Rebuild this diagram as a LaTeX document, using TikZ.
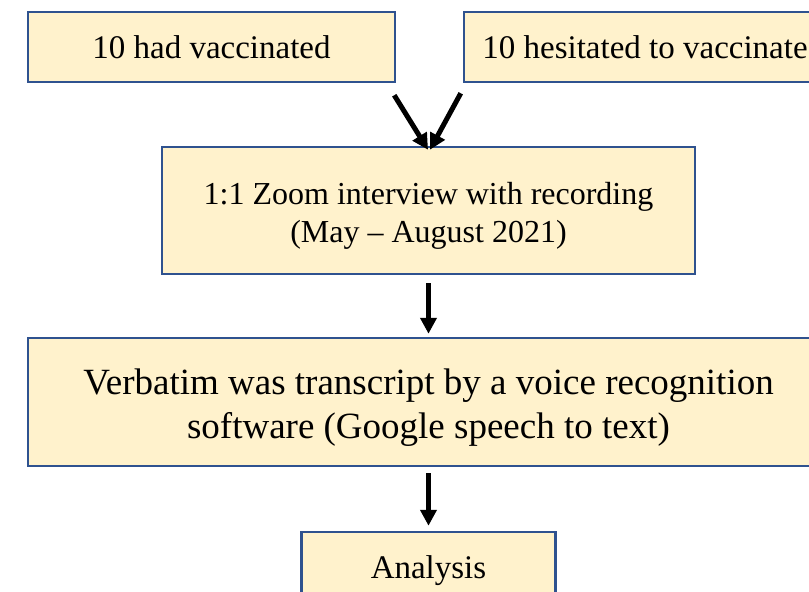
\documentclass[tikz,border=0pt]{standalone}
\usepackage{fontspec}
\setmainfont{Liberation Serif}
\usetikzlibrary{arrows.meta}
\definecolor{vacfill}{RGB}{255,242,204}
\definecolor{vacline}{RGB}{47,82,143}
\begin{document}
\begin{tikzpicture}[
  x=1pt, y=-1pt,
  vacbox/.style = {draw=vacline, fill=vacfill, line width=2.5pt,
    inner sep=0pt, align=center, font=\fontsize{33}{39}\selectfont},
  vacmid/.style = {vacbox, text height=70pt, text depth=7pt,
    font=\fontsize{32}{38}\selectfont},
  vacbig/.style = {vacbox, text height=80pt, text depth=8pt,
    font=\fontsize{37}{44}\selectfont},
  vacarrow/.style = {line width=5pt, -{Triangle[width=16pt,length=16pt]}}
]
  \useasboundingbox (0,0) rectangle (809,592);
  \clip (0,0) rectangle (809,592);
  % two groups
  \node[vacbox, minimum width=367pt, minimum height=70pt] (had)
    at (211.5,47) {10 had vaccinated};
  \node[vacbox, minimum width=362pt, minimum height=70pt] (hes)
    at (645,47) {10 hesitated to vaccinate};
  % interview
  \node[vacmid, minimum width=533pt, minimum height=127pt] (interview)
    at (428.5,210.5) {1:1 Zoom interview with recording\\(May -- August 2021)};
  % transcription
  \node[vacbig, minimum width=801pt, minimum height=128pt] (verb)
    at (428.5,402) {Verbatim was transcript by a voice recognition\\
    software (Google speech to text)};
  % analysis
  \node[vacbox, minimum width=254pt, minimum height=78pt] (analysis)
    at (428.5,571) {Analysis};
  % arrows
  \draw[vacarrow] ([shift={(-2pt,-12pt)}]had.south east)
    -- ([shift={(-0.5pt,-4pt)}]interview.north);
  \draw[vacarrow] ([shift={(-2pt,-10pt)}]hes.south west)
    -- ([shift={(1.5pt,-4pt)}]interview.north);
  \draw[vacarrow] ([yshift=-8pt]interview.south) -- ([yshift=3pt]verb.north);
  \draw[vacarrow] ([yshift=-6pt]verb.south) -- ([yshift=5pt]analysis.north);
\end{tikzpicture}
\end{document}
